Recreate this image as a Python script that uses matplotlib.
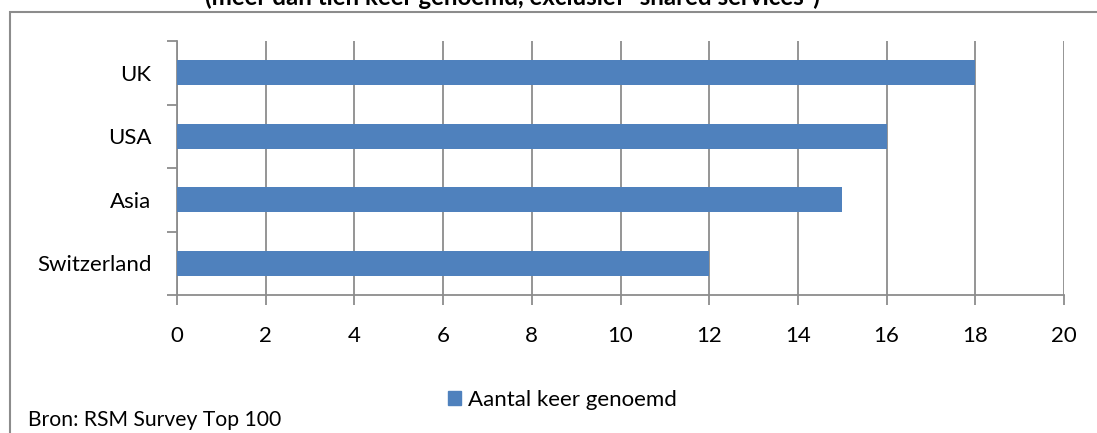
import matplotlib.pyplot as plt
from matplotlib.patches import Rectangle

plt.rcParams['font.family'] = ['Lato', 'DejaVu Sans']

countries = ['Switzerland', 'Asia', 'USA', 'UK']
counts = [12, 15, 16, 18]
x_ticks = list(range(0, 21, 2))
series_name = 'Aantal keer genoemd'
subtitle = '(meer dan tien keer genoemd, exclusief "shared services")'
source = 'Bron: RSM Survey Top 100'

bar_color = '#4F81BD'
grid_color = '#8C8C8C'
fs = 16

W, H = 1097, 433
fig = plt.figure(figsize=(W / 100, H / 100), dpi=100)
ax = fig.add_axes([177 / W, 1 - 295 / H, (1064 - 177) / W, (295 - 41) / H])

pos = range(len(countries))
ax.barh(pos, counts, height=0.4, color=bar_color, zorder=3)

ax.set_xlim(0, 20)
ax.set_ylim(-0.5, len(countries) - 0.5)
ax.set_xticks(x_ticks)
ax.set_xticklabels([str(t) for t in x_ticks], fontsize=fs)
ax.grid(axis='x', color=grid_color, linewidth=1.3, zorder=0)

# category boundaries get the ticks, labels sit in between
ax.set_yticks([p - 0.5 for p in range(len(countries) + 1)])
ax.set_yticklabels([])
ax.set_yticks(list(pos), minor=True)
ax.set_yticklabels(countries, minor=True, fontsize=fs)
ax.tick_params(axis='y', which='minor', length=0, pad=18.5)
ax.tick_params(axis='y', which='major', length=7, width=1.3, color=grid_color)
ax.tick_params(axis='x', length=7, width=1.3, color=grid_color, pad=15.5)

for side in ['top', 'right']:
    ax.spines[side].set_visible(False)
for side in ['left', 'bottom']:
    ax.spines[side].set_color(grid_color)
    ax.spines[side].set_linewidth(1.3)

# chart area frame, runs off the right and bottom edges
fig.patches.append(Rectangle((10 / W, -0.1), 1.2, (H - 12) / H + 0.1,
                             transform=fig.transFigure, fill=False,
                             edgecolor='#8C8C8C', linewidth=1.5))

fig.text(512 / W, 1 - 5 / H, subtitle, ha='center', va='baseline',
         fontsize=17.4, fontweight='bold')
fig.text(28 / W, 1 - 420 / H, source, ha='left', va='center', fontsize=15.2)

leg = fig.legend([Rectangle((0, 0), 1, 1, color=bar_color)], [series_name],
                 loc='center left', bbox_to_anchor=(448 / W, 1 - 400 / H),
                 frameon=False, fontsize=fs, handlelength=0.6,
                 handleheight=0.6, handletextpad=0.3, borderpad=0,
                 borderaxespad=0)

fig.savefig('out.png', dpi=100)
